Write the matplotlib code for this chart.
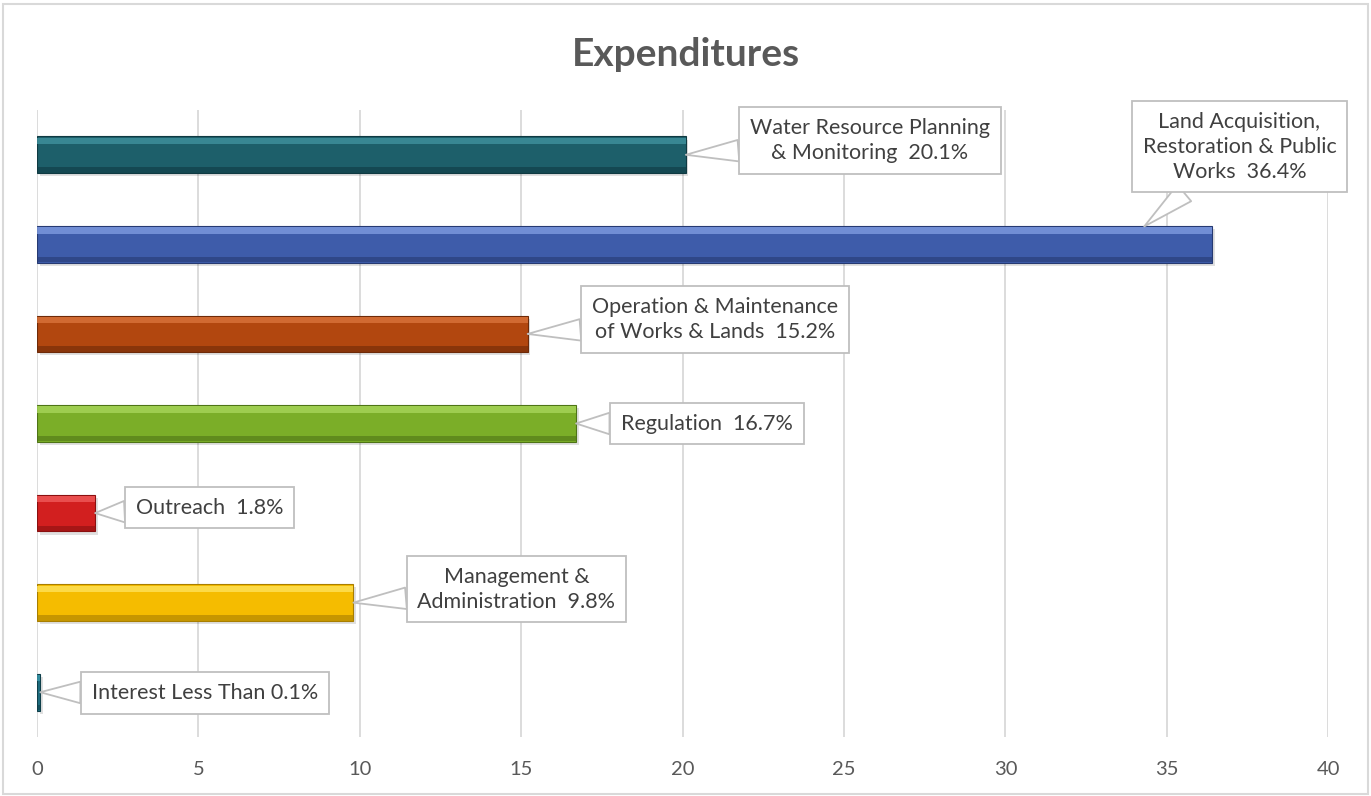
import matplotlib.pyplot as plt
import matplotlib.patches as mpatches

plt.rcParams['font.family'] = ['Lato', 'DejaVu Sans']

# Data (bottom to top)
categories = ["Interest Less Than", "Management &\nAdministration", "Outreach", "Regulation",
              "Operation & Maintenance\nof Works & Lands", "Land Acquisition,\nRestoration & Public\nWorks",
              "Water Resource Planning\n& Monitoring"]
values = [0.1, 9.8, 1.8, 16.7, 15.2, 36.4, 20.1]
labels = ["Interest Less Than 0.1%", "Management &\nAdministration  9.8%", "Outreach  1.8%",
          "Regulation  16.7%", "Operation & Maintenance\nof Works & Lands  15.2%",
          "Land Acquisition,\nRestoration & Public\nWorks  36.4%",
          "Water Resource Planning\n& Monitoring  20.1%"]
colors = ["#1E6E80", "#F5BC00", "#D21F1F", "#7BAE28", "#B2470F", "#3E5CAA", "#1D5F6A"]
light = ["#3A98AA", "#FFE25A", "#F05A5A", "#A8D65A", "#D9743C", "#7F9BE0", "#3F929E"]
dark = ["#0F3F4A", "#A87E00", "#8A1010", "#4E7416", "#6E2A08", "#263A72", "#0F3A42"]

# label box centres (data coords) and pointer targets
label_xy = [(5.2, -0.01), (14.85, 1.15), (5.35, 2.06), (20.75, 3.0), (21.0, 4.16), (37.25, 6.09), (25.8, 6.16)]
tip_xy = [(0.1, 0.0), (9.8, 0.0), (1.8, 0.0), (16.7, 0.0), (15.2, 0.0), (34.3, 0.2), (20.1, 0.0)]

fig = plt.figure(figsize=(13.71, 7.96), dpi=100)
ax = fig.add_axes([0.027, 0.0741, 0.9418, 0.7877])

ypos = list(range(len(values)))
h = 0.41

# soft shadow
ax.barh([y - 0.035 for y in ypos], values, height=h, left=0.08, color="#000000", alpha=0.12, zorder=2)
ax.barh(ypos, values, height=h, color=colors, edgecolor=dark, linewidth=0.8, zorder=3)
# bevel highlight / shade
ax.barh([y + h / 2 - 0.05 for y in ypos], values, height=0.07, color=light, alpha=0.8, linewidth=0, zorder=4)
ax.barh([y - h / 2 + 0.035 for y in ypos], values, height=0.06, color=dark, alpha=0.6, linewidth=0, zorder=4)

for i, (lab, (lx, ly), (tx, ty)) in enumerate(zip(labels, label_xy, tip_xy)):
    ax.annotate(lab, xy=(tx, i + ty), xytext=(lx, ly), textcoords="data",
                ha="center", va="center", fontsize=15.5, color="#404040", linespacing=1.3,
                bbox=dict(boxstyle="square,pad=0.5", fc="white", ec="#BFBFBF", lw=1.3),
                arrowprops=dict(arrowstyle="wedge,tail_width=1.0,shrink_factor=0.5", fc="white",
                                ec="#BFBFBF", lw=1.3, shrinkA=0, shrinkB=0),
                zorder=6)

ax.set_xlim(0, 40)
ax.set_ylim(-0.5, 6.5)
ax.set_xticks(range(0, 41, 5))
ax.set_yticks([])
ax.grid(axis="x", color="#D9D9D9", linewidth=1.3, zorder=0)
ax.set_axisbelow(True)
for s in ax.spines.values():
    s.set_visible(False)
ax.tick_params(axis="x", length=0, labelsize=14.5, labelcolor="#595959", pad=17)

fig.text(0.5, 0.932, "Expenditures", ha="center", va="center", fontsize=28,
         fontweight="bold", color="#595959")

fig.patches.append(mpatches.Rectangle((0.002, 0.002), 0.996, 0.993, transform=fig.transFigure,
                                      fill=False, ec="#D9D9D9", lw=1.5))

fig.savefig("out.png", dpi=100)
